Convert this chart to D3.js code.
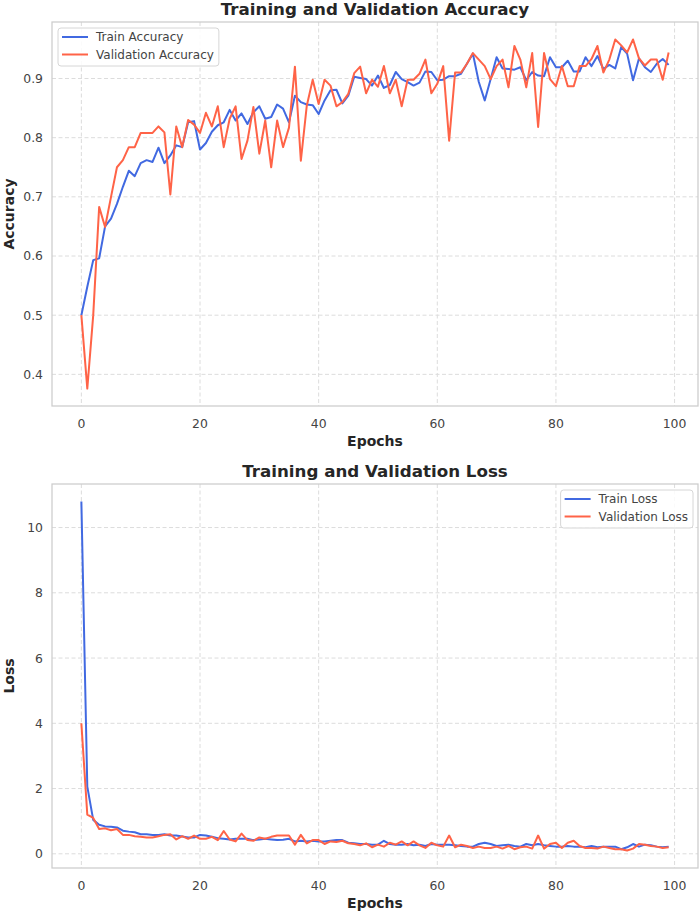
<!DOCTYPE html>
<html>
<head>
<meta charset="utf-8">
<script src="https://cdn.jsdelivr.net/npm/d3@7"></script>
<style>
  body { margin: 0; background: #fff; }
  svg { display: block; font-family: "DejaVu Sans", sans-serif; }
</style>
</head>
<body>
<svg id="chart" width="700" height="912"></svg>
<script>
// values, one per epoch
const epochs = d3.range(0, 100);

const trainAcc = [
  0.500, 0.548, 0.593, 0.596, 0.650, 0.663, 0.688, 0.717, 0.744, 0.735,
  0.757, 0.762, 0.759, 0.783, 0.757, 0.770, 0.787, 0.784, 0.826, 0.828,
  0.780, 0.791, 0.810, 0.821, 0.826, 0.847, 0.829, 0.841, 0.823, 0.843,
  0.853, 0.832, 0.835, 0.856, 0.849, 0.826, 0.871, 0.860, 0.856, 0.855,
  0.840, 0.863, 0.880, 0.881, 0.858, 0.871, 0.903, 0.901, 0.899, 0.888,
  0.905, 0.884, 0.889, 0.911, 0.899, 0.894, 0.888, 0.893, 0.912, 0.911,
  0.897, 0.898, 0.904, 0.904, 0.908, 0.925, 0.942, 0.894, 0.863, 0.899,
  0.936, 0.917, 0.916, 0.915, 0.919, 0.897, 0.911, 0.905, 0.904, 0.936,
  0.919, 0.919, 0.930, 0.912, 0.912, 0.936, 0.921, 0.938, 0.916, 0.923,
  0.917, 0.953, 0.942, 0.897, 0.934, 0.919, 0.911, 0.925, 0.933, 0.923
];

const valAcc = [
  0.500, 0.376, 0.500, 0.683, 0.649, 0.700, 0.750, 0.762, 0.784, 0.784,
  0.808, 0.808, 0.808, 0.819, 0.809, 0.704, 0.819, 0.784, 0.830, 0.822,
  0.808, 0.842, 0.819, 0.853, 0.784, 0.832, 0.853, 0.764, 0.795, 0.852,
  0.773, 0.829, 0.750, 0.829, 0.784, 0.817, 0.920, 0.761, 0.854, 0.898,
  0.857, 0.898, 0.888, 0.853, 0.860, 0.874, 0.909, 0.920, 0.875, 0.898,
  0.886, 0.921, 0.875, 0.898, 0.853, 0.898, 0.898, 0.908, 0.932, 0.875,
  0.891, 0.921, 0.795, 0.910, 0.910, 0.925, 0.943, 0.932, 0.921, 0.899,
  0.921, 0.932, 0.885, 0.955, 0.932, 0.885, 0.943, 0.818, 0.943, 0.899,
  0.887, 0.921, 0.887, 0.887, 0.921, 0.921, 0.933, 0.955, 0.910, 0.932,
  0.966, 0.956, 0.944, 0.966, 0.934, 0.922, 0.932, 0.932, 0.898, 0.944
];

const trainLoss = [
  10.8, 2.06, 1.04, 0.89, 0.84, 0.83, 0.81, 0.71, 0.68, 0.66,
  0.60, 0.60, 0.58, 0.58, 0.60, 0.56, 0.56, 0.53, 0.50, 0.50,
  0.58, 0.56, 0.52, 0.48, 0.46, 0.44, 0.46, 0.46, 0.46, 0.42,
  0.44, 0.46, 0.44, 0.42, 0.43, 0.46, 0.38, 0.40, 0.38, 0.40,
  0.38, 0.38, 0.40, 0.42, 0.42, 0.34, 0.32, 0.30, 0.30, 0.28,
  0.28, 0.40, 0.30, 0.28, 0.28, 0.30, 0.26, 0.28, 0.24, 0.30,
  0.28, 0.28, 0.28, 0.26, 0.24, 0.22, 0.22, 0.30, 0.34, 0.30,
  0.24, 0.26, 0.28, 0.24, 0.22, 0.30, 0.26, 0.30, 0.26, 0.24,
  0.22, 0.22, 0.24, 0.22, 0.22, 0.20, 0.24, 0.20, 0.22, 0.22,
  0.22, 0.14, 0.20, 0.30, 0.22, 0.28, 0.26, 0.22, 0.20, 0.22
];

const valLoss = [
  4.00, 1.20, 1.10, 0.76, 0.78, 0.72, 0.76, 0.58, 0.58, 0.54,
  0.52, 0.50, 0.50, 0.54, 0.58, 0.60, 0.44, 0.54, 0.46, 0.56,
  0.46, 0.46, 0.52, 0.42, 0.70, 0.44, 0.38, 0.62, 0.42, 0.40,
  0.50, 0.46, 0.52, 0.56, 0.56, 0.56, 0.28, 0.58, 0.32, 0.42,
  0.42, 0.30, 0.38, 0.36, 0.40, 0.32, 0.30, 0.26, 0.32, 0.20,
  0.28, 0.22, 0.34, 0.28, 0.38, 0.26, 0.38, 0.26, 0.18, 0.34,
  0.26, 0.22, 0.56, 0.20, 0.28, 0.24, 0.18, 0.22, 0.18, 0.18,
  0.22, 0.16, 0.24, 0.14, 0.20, 0.22, 0.16, 0.56, 0.16, 0.30,
  0.34, 0.18, 0.34, 0.40, 0.24, 0.18, 0.18, 0.16, 0.22, 0.18,
  0.14, 0.14, 0.10, 0.16, 0.30, 0.28, 0.24, 0.22, 0.18, 0.20
];

const xTicks = [0, 20, 40, 60, 80, 100];
const accTicks = [0.4, 0.5, 0.6, 0.7, 0.8, 0.9];
const lossTicks = [0, 2, 4, 6, 8, 10];

const BLUE = "#4169e1";
const RED = "#ff6347";

const svg = d3.select("#chart");

// matplotlib style 5% margin around the data
function padded(ext) {
  const m = (ext[1] - ext[0]) * 0.05;
  return [ext[0] - m, ext[1] + m];
}

function drawPanel(opt) {
  const left = 52, right = 698;
  const g = svg.append("g");

  const x = d3.scaleLinear()
    .domain(padded(d3.extent(epochs)))
    .range([left, right]);

  const y = d3.scaleLinear()
    .domain(padded(d3.extent(opt.series[0].values.concat(opt.series[1].values))))
    .range([opt.bottom, opt.top]);

  // grid
  g.selectAll(".gx")
    .data(xTicks)
    .enter()
    .append("line")
    .attr("x1", d => x(d)).attr("x2", d => x(d))
    .attr("y1", opt.top).attr("y2", opt.bottom)
    .attr("stroke", "#dcdcdc")
    .attr("stroke-width", 1)
    .attr("stroke-dasharray", "4,2.5");

  g.selectAll(".gy")
    .data(opt.ticks)
    .enter()
    .append("line")
    .attr("x1", left).attr("x2", right)
    .attr("y1", d => y(d)).attr("y2", d => y(d))
    .attr("stroke", "#dcdcdc")
    .attr("stroke-width", 1)
    .attr("stroke-dasharray", "4,2.5");

  // lines
  const line = d3.line()
    .x((d, i) => x(epochs[i]))
    .y(d => y(d));

  opt.series.forEach(s => {
    g.append("path")
      .datum(s.values)
      .attr("d", line)
      .attr("fill", "none")
      .attr("stroke", s.color)
      .attr("stroke-width", 2)
      .attr("stroke-linejoin", "round");
  });

  // frame
  g.append("rect")
    .attr("x", left).attr("y", opt.top)
    .attr("width", right - left).attr("height", opt.bottom - opt.top)
    .attr("fill", "none")
    .attr("stroke", "#cccccc")
    .attr("stroke-width", 1.25);

  // tick labels
  g.selectAll(".tx")
    .data(xTicks)
    .enter()
    .append("text")
    .attr("x", d => x(d))
    .attr("y", opt.bottom + 22)
    .attr("text-anchor", "middle")
    .attr("font-size", "12.4px")
    .attr("fill", "#444")
    .text(d => d);

  g.selectAll(".ty")
    .data(opt.ticks)
    .enter()
    .append("text")
    .attr("x", left - 9)
    .attr("y", d => y(d))
    .attr("dy", "0.36em")
    .attr("text-anchor", "end")
    .attr("font-size", "12.4px")
    .attr("fill", "#444")
    .text(opt.fmt);

  // titles
  g.append("text")
    .attr("x", (left + right) / 2)
    .attr("y", opt.top - 7)
    .attr("text-anchor", "middle")
    .attr("font-size", "16.7px")
    .attr("font-weight", "bold")
    .attr("fill", "#262626")
    .text(opt.title);

  g.append("text")
    .attr("x", (left + right) / 2)
    .attr("y", opt.bottom + 40)
    .attr("text-anchor", "middle")
    .attr("font-size", "14px")
    .attr("font-weight", "bold")
    .attr("fill", "#262626")
    .text("Epochs");

  g.append("text")
    .attr("transform", "translate(14," + (opt.top + opt.bottom) / 2 + ") rotate(-90)")
    .attr("text-anchor", "middle")
    .attr("font-size", "14px")
    .attr("font-weight", "bold")
    .attr("fill", "#262626")
    .text(opt.ylabel);

  // legend
  const lg = g.append("g");
  const box = lg.append("rect")
    .attr("fill", "white")
    .attr("fill-opacity", 0.85)
    .attr("stroke", "#d6d6d6")
    .attr("rx", 3);
  let maxW = 0;
  opt.series.forEach((s, i) => {
    const cy = 9 + i * 17.5;
    lg.append("line")
      .attr("x1", 4).attr("x2", 30)
      .attr("y1", cy).attr("y2", cy)
      .attr("stroke", s.color)
      .attr("stroke-width", 2);
    const t = lg.append("text")
      .attr("x", 38).attr("y", cy)
      .attr("dy", "0.36em")
      .attr("font-size", "12px")
      .attr("fill", "#444")
      .text(s.name);
    maxW = Math.max(maxW, t.node().getComputedTextLength());
  });
  const bw = 38 + maxW + 5, bh = 38;
  box.attr("x", 0).attr("y", 0).attr("width", bw).attr("height", bh);
  const lx = opt.legend === "left" ? left + 6 : right - 5 - bw;
  lg.attr("transform", "translate(" + lx + "," + (opt.top + 6) + ")");
}

drawPanel({
  top: 22, bottom: 406,
  title: "Training and Validation Accuracy",
  ylabel: "Accuracy",
  ticks: accTicks,
  fmt: d3.format(".1f"),
  legend: "left",
  series: [
    { name: "Train Accuracy", values: trainAcc, color: BLUE },
    { name: "Validation Accuracy", values: valAcc, color: RED }
  ]
});

drawPanel({
  top: 484, bottom: 868,
  title: "Training and Validation Loss",
  ylabel: "Loss",
  ticks: lossTicks,
  fmt: d => d,
  legend: "right",
  series: [
    { name: "Train Loss", values: trainLoss, color: BLUE },
    { name: "Validation Loss", values: valLoss, color: RED }
  ]
});
</script>
</body>
</html>
